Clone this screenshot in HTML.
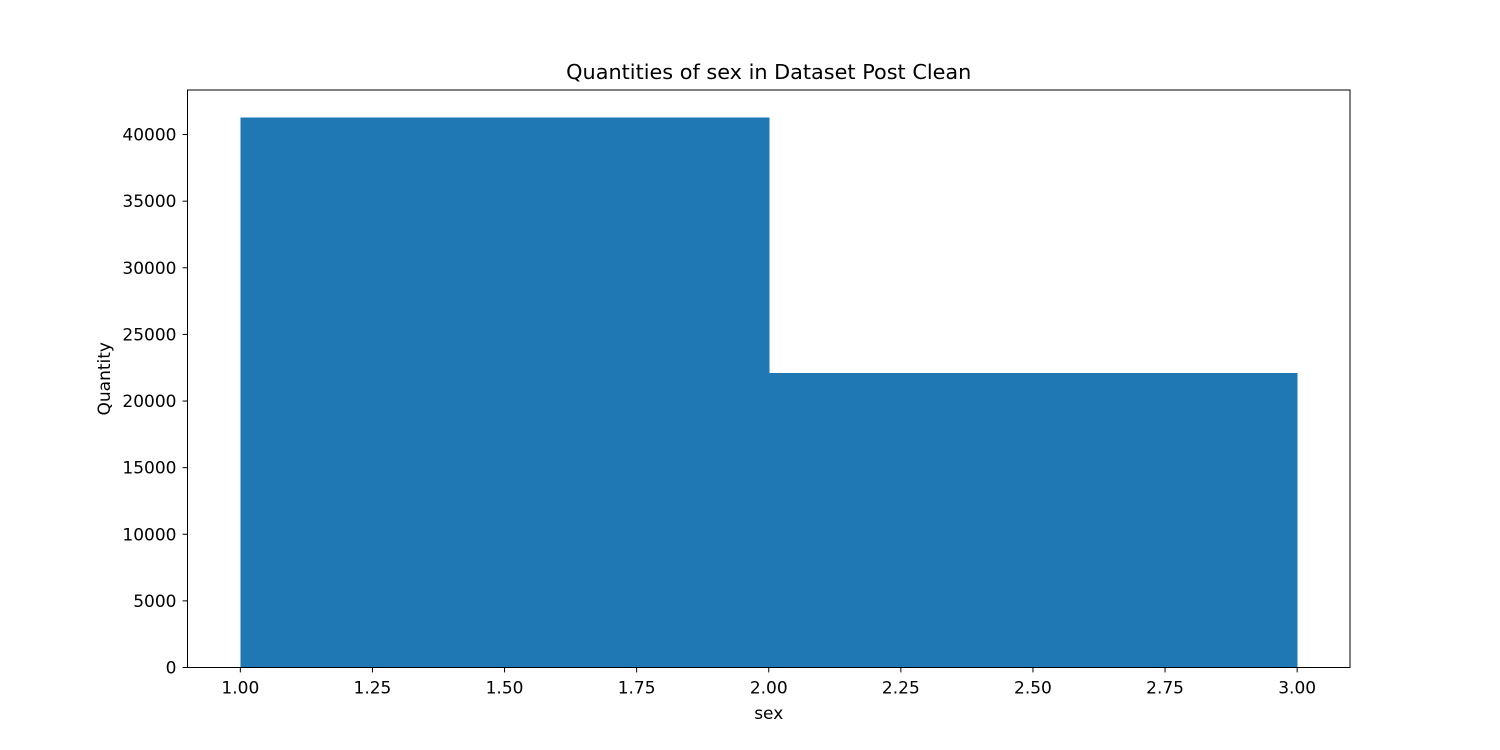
<!DOCTYPE html>
<html><head><meta charset="utf-8"><style>
html,body{margin:0;padding:0;background:#fff;}
svg{display:block;font-family:"DejaVu Sans","Liberation Sans",sans-serif;}
</style></head><body>
<svg id="chart" width="1500" height="750" xmlns="http://www.w3.org/2000/svg">
<rect width="1500" height="750" fill="#fff"/>
<text x="768.75" y="79" text-anchor="middle" font-size="20.8" fill="#000">Quantities of sex in Dataset Post Clean</text>
<g id="bars" shape-rendering="crispEdges"></g>
<g id="xticks"></g>
<g id="yticks"></g>
<rect x="187.5" y="90" width="1162.5" height="577.5" fill="none" stroke="#000" stroke-width="1"/>
<text x="768.75" y="719" text-anchor="middle" font-size="17" fill="#000">sex</text>
<text transform="translate(110,378.75) rotate(-90)" text-anchor="middle" font-size="17" fill="#000">Quantity</text>
</svg>
<script>
const binEdges = [1.0, 2.0, 3.0];
const counts = [41280, 22120];
const xTickValues = [1.0, 1.25, 1.5, 1.75, 2.0, 2.25, 2.5, 2.75, 3.0];
const yTickValues = [0, 5000, 10000, 15000, 20000, 25000, 30000, 35000, 40000];

const L = 187.5, R = 1350, T = 90, B = 667.5;
const xmin = binEdges[0] - (binEdges[binEdges.length-1]-binEdges[0])*0.05;
const xmax = binEdges[binEdges.length-1] + (binEdges[binEdges.length-1]-binEdges[0])*0.05;
const ymax = Math.max(...counts) * 1.05;
const xs = v => L + (v - xmin) / (xmax - xmin) * (R - L);
const ys = v => B - v / ymax * (B - T);
const NS = "http://www.w3.org/2000/svg";
const mk = (tag, attrs) => { const e = document.createElementNS(NS, tag); for (const k in attrs) e.setAttribute(k, attrs[k]); return e; };

const barsG = document.getElementById('bars');
counts.forEach((c, i) => {
  const x0 = xs(binEdges[i]), x1 = xs(binEdges[i+1]);
  const r = mk('rect', {x: x0, y: ys(c), width: x1 - x0 + 0.5, height: B - ys(c), fill: '#1f77b4'});
  
  
  barsG.appendChild(r);
});

const xg = document.getElementById('xticks');
xTickValues.forEach(v => {
  const x = xs(v);
  const l = mk('line', {x1: x, x2: x, y1: B, y2: B + 4.9, stroke: '#000', 'stroke-width': 1});
  
  
  xg.appendChild(l);
  const t = mk('text', {x: x, y: B + 26, 'text-anchor': 'middle', 'font-size': 17, fill: '#000'});
  t.textContent = v.toFixed(2);
  
  
  xg.appendChild(t);
});

const yg = document.getElementById('yticks');
yTickValues.forEach(v => {
  const y = ys(v);
  const l = mk('line', {x1: L - 4.9, x2: L, y1: y, y2: y, stroke: '#000', 'stroke-width': 1});
  
  
  yg.appendChild(l);
  const t = mk('text', {x: L - 11, y: y + 6, 'text-anchor': 'end', 'font-size': 17, fill: '#000'});
  t.textContent = String(v);
  
  
  yg.appendChild(t);
});
</script>
</body></html>
